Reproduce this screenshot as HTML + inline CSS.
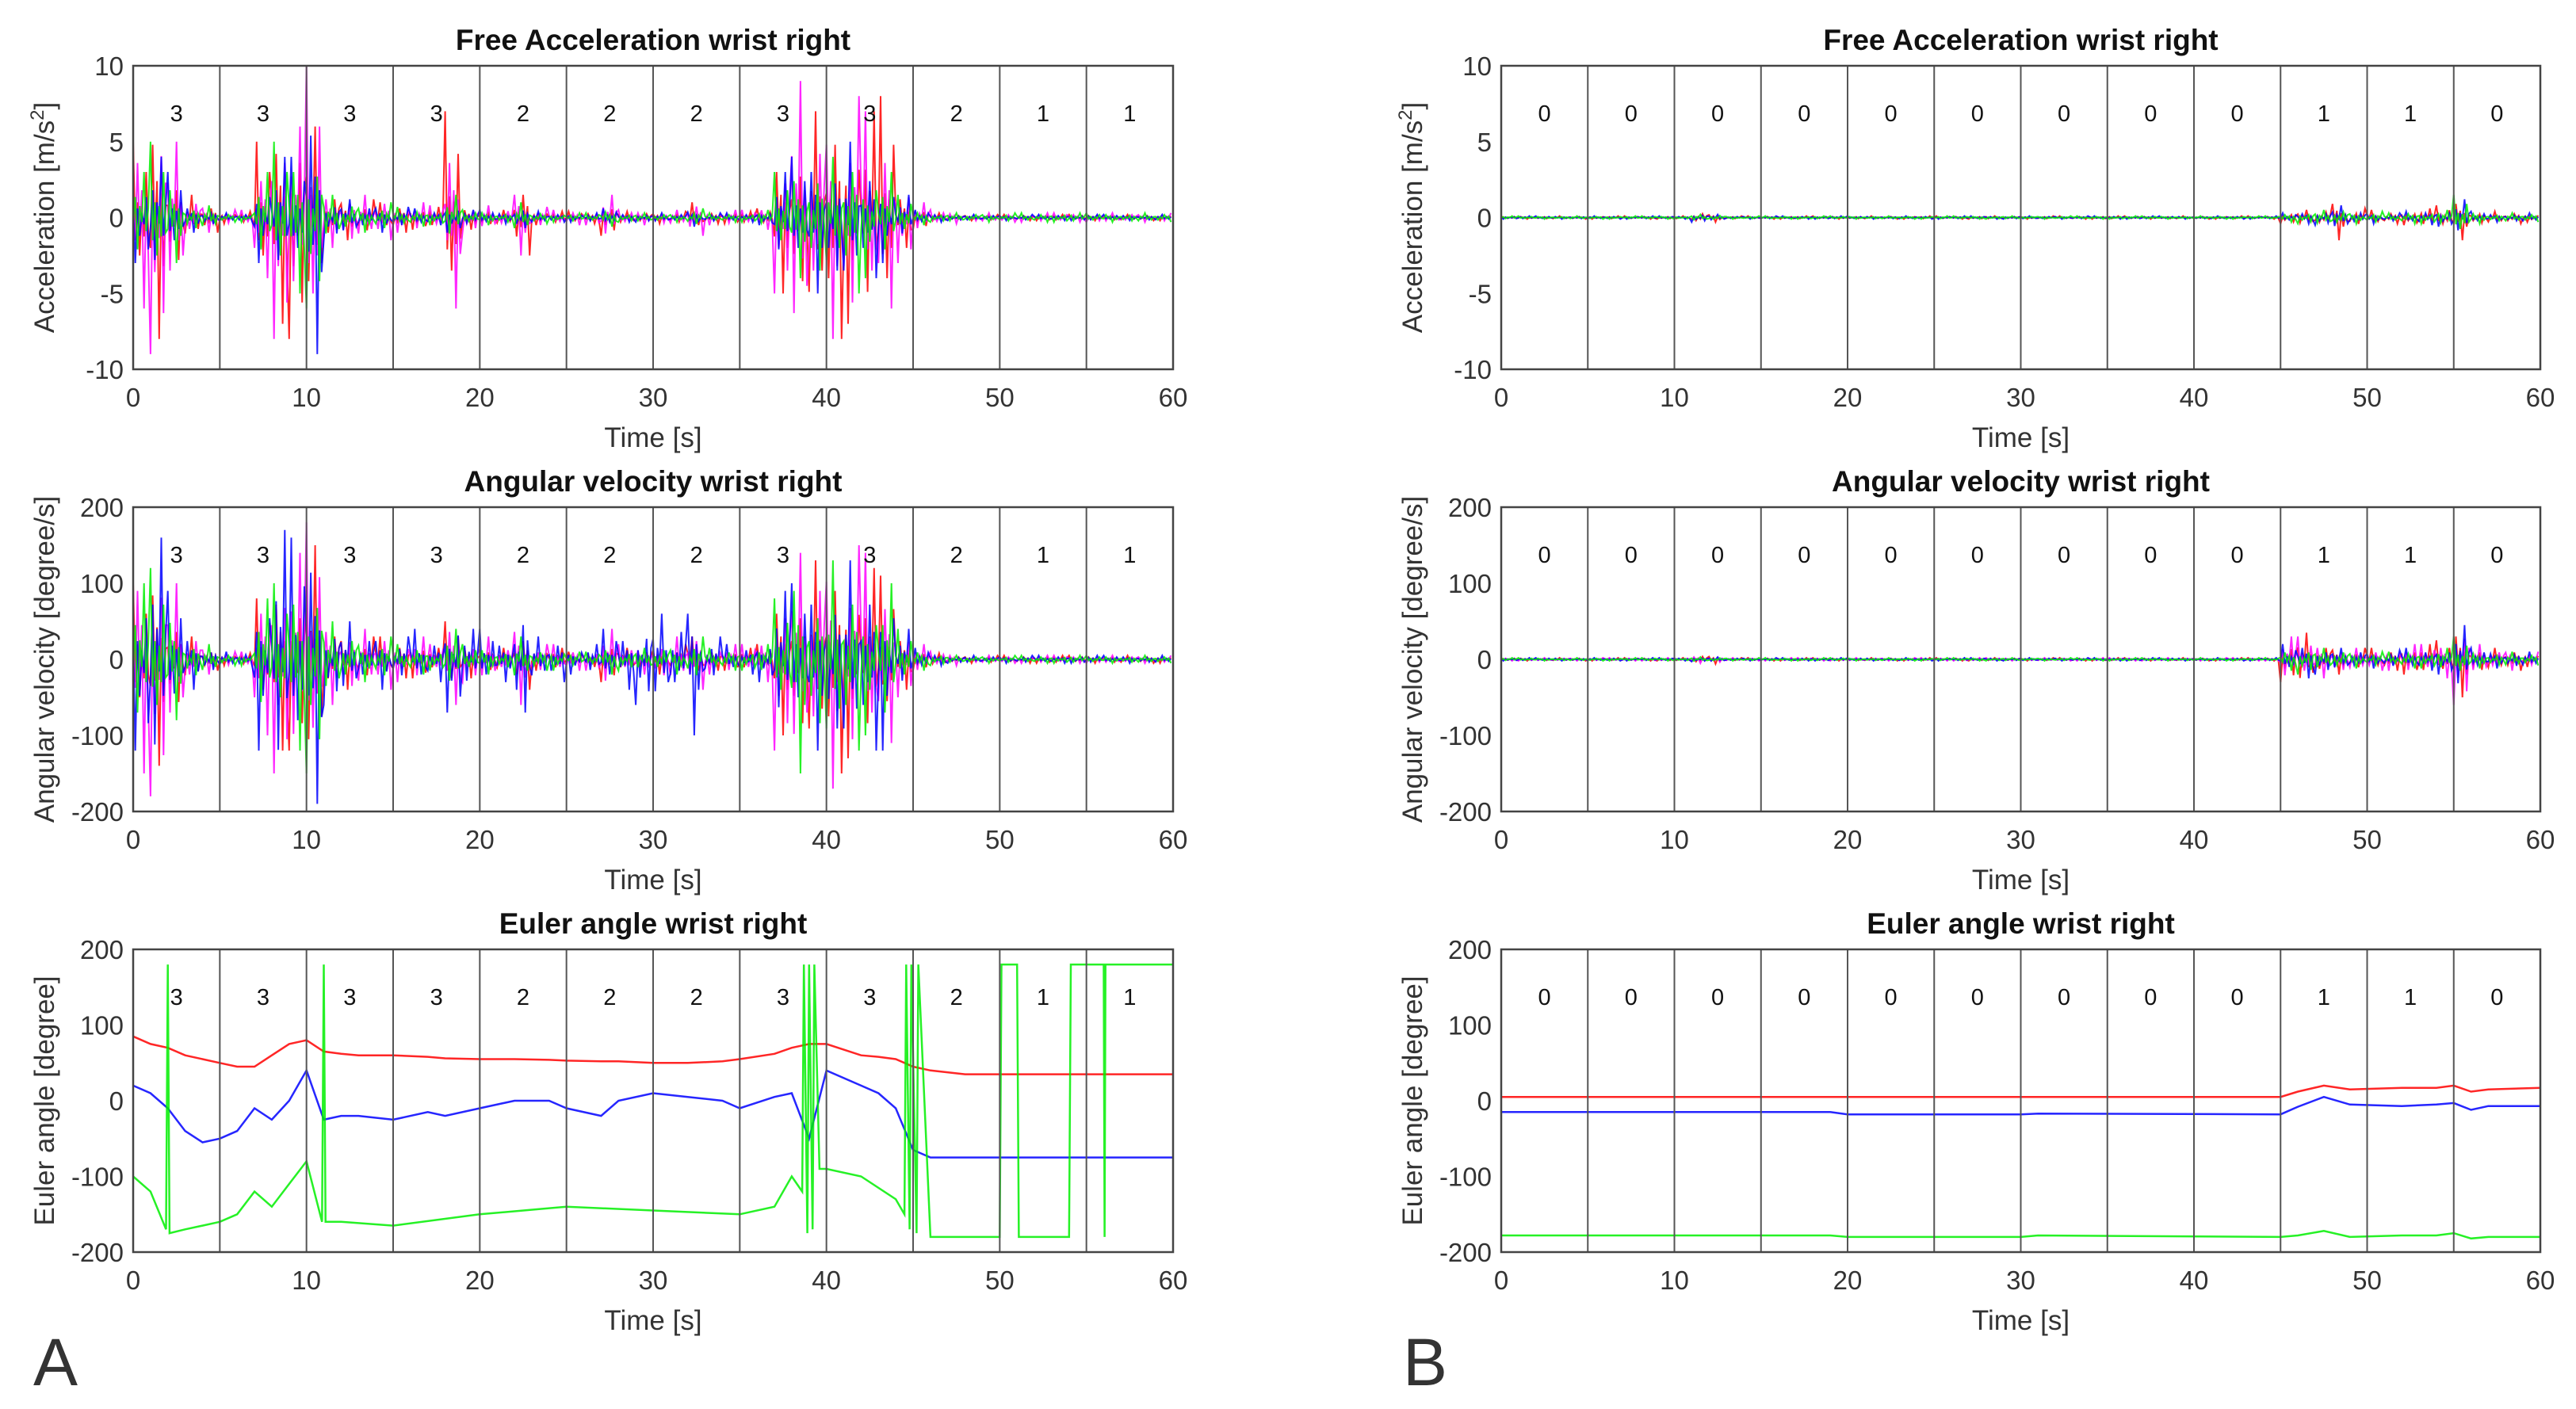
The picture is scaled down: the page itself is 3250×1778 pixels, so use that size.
<!DOCTYPE html>
<html><head><meta charset="utf-8"><style>
html,body{margin:0;padding:0;background:#fff}
svg{display:block}
text{font-family:"Liberation Sans",sans-serif}
</style></head><body>
<svg id="fig" width="3250" height="1778" viewBox="0 0 3250 1778" xmlns="http://www.w3.org/2000/svg">
<text x="42" y="1748" font-size="84" fill="#333">A</text>
<text x="1770" y="1748" font-size="84" fill="#333">B</text>
</svg>
<script>
const xTicks=[0,10,20,30,40,50,60];
const labelsA=["3","3","3","3","2","2","2","3","3","2","1","1"];
const labelsB=["0","0","0","0","0","0","0","0","0","1","1","0"];
const accTicks=[10,5,0,-5,-10];
const angTicks=[200,100,0,-100,-200];
// Free acceleration A envelopes (per second)
const accAMag=[6,9,5,1.5,1,0.5,0.5,4,8,6,10,2,2,1.5,1.5,1,1,0.8,6,1,0.8,0.7,2.5,0.7,0.5,0.5,0.5,1.5,0.5,0.5,0.5,0.5,1.2,0.5,0.5,0.5,0.8,5,9,7,8,8,7,6,3,1,0.5,0.4,0.3,0.3,0.3,0.3,0.3,0.3,0.3,0.3,0.3,0.3,0.3,0.3];
const accARed=[5,8,4,1.5,1,0.4,0.4,5,7,8,6,2,1.5,1.2,1,1,0.8,0.7,7,0.8,0.6,0.5,2.5,0.5,0.4,0.4,0.4,1.2,0.4,0.4,0.4,0.4,1,0.4,0.4,0.4,0.6,5,6,7,8,7,7,8,2,0.8,0.3,0.2,0.2,0.2,0.2,0.2,0.2,0.2,0.2,0.2,0.2,0.2,0.2,0.2];
const accABlue=[3,4,3,1,0.6,0.3,0.3,3,4,4,9,1.5,1.2,1,1,0.7,0.6,0.5,1,0.5,0.5,0.4,1,0.4,0.3,0.3,0.3,0.6,0.3,0.3,0.3,0.3,0.6,0.3,0.3,0.3,0.5,3,4,5,5,5,4,3,1.5,0.5,0.3,0.2,0.2,0.2,0.2,0.2,0.2,0.2,0.2,0.2,0.2,0.2,0.2,0.2];
const accAGreen=[3,5,3,1,0.8,0.3,0.3,3,5,5,6,1.5,1.2,1,1,0.7,0.6,0.5,1.5,0.5,0.5,0.4,1,0.4,0.3,0.3,0.3,0.6,0.3,0.3,0.3,0.3,0.6,0.3,0.3,0.3,0.5,3,4,5,4,5,4,3,1.5,0.5,0.3,0.3,0.3,0.3,0.3,0.3,0.3,0.3,0.3,0.3,0.3,0.3,0.3,0.3];
// Angular velocity A envelopes
const angAMag=[150,180,100,40,20,10,10,100,150,140,180,60,50,40,40,30,30,20,60,30,30,20,60,20,20,15,15,40,20,20,30,30,40,20,20,20,30,120,140,150,170,150,140,110,50,20,10,8,5,5,5,5,5,5,5,5,5,5,5,5];
const angARed=[100,140,80,30,15,8,8,80,120,120,150,50,40,30,30,25,25,15,50,25,20,15,40,15,15,10,10,30,15,15,20,20,30,15,15,15,20,100,120,130,150,130,120,110,40,15,8,5,5,5,5,5,5,5,5,5,5,5,5,5];
const angABlue=[120,160,90,40,20,10,10,120,170,160,190,60,50,40,40,30,40,30,70,40,40,30,100,30,30,20,20,40,40,60,60,60,100,30,20,20,30,90,100,120,130,130,120,120,40,15,8,5,5,5,5,5,5,5,5,5,5,5,5,5];
const angAGreen=[100,120,80,30,20,8,8,80,100,120,150,50,40,30,30,20,20,15,40,20,20,15,30,15,15,10,10,20,15,15,20,20,30,15,15,15,20,80,150,120,130,120,100,100,40,15,8,5,5,5,5,5,5,5,5,5,5,5,5,5];
// Free acceleration B envelopes
const accBRed=[0.1,0.1,0.1,0.1,0.1,0.1,0.1,0.1,0.1,0.1,0.1,0.4,0.3,0.1,0.1,0.1,0.1,0.1,0.1,0.1,0.1,0.1,0.1,0.1,0.1,0.1,0.1,0.1,0.1,0.1,0.1,0.1,0.1,0.1,0.1,0.1,0.1,0.1,0.1,0.1,0.1,0.1,0.1,0.1,0.1,0.4,0.5,0.6,1.5,0.6,0.5,0.4,0.5,0.6,0.8,1.5,0.5,0.4,0.4,0.3];
const accBBlue=[0.1,0.1,0.1,0.1,0.1,0.1,0.1,0.1,0.1,0.1,0.1,0.3,0.2,0.1,0.1,0.1,0.1,0.1,0.1,0.1,0.1,0.1,0.1,0.1,0.1,0.1,0.1,0.1,0.1,0.1,0.1,0.1,0.1,0.1,0.1,0.1,0.1,0.1,0.1,0.1,0.1,0.1,0.1,0.1,0.1,0.3,0.4,0.5,0.8,0.5,0.4,0.3,0.4,0.5,0.6,1.2,0.4,0.3,0.3,0.3];
const accBGreen=[0.1,0.1,0.1,0.1,0.1,0.1,0.1,0.1,0.1,0.1,0.1,0.2,0.2,0.1,0.1,0.1,0.1,0.1,0.1,0.1,0.1,0.1,0.1,0.1,0.1,0.1,0.1,0.1,0.1,0.1,0.1,0.1,0.1,0.1,0.1,0.1,0.1,0.1,0.1,0.1,0.1,0.1,0.1,0.1,0.1,0.3,0.4,0.5,0.6,0.4,0.4,0.3,0.4,0.4,0.5,1.5,0.4,0.3,0.3,0.3];
// Angular velocity B envelopes
const angBRed=[2,2,2,2,2,2,2,2,2,2,2,6,6,2,2,2,2,2,2,2,2,2,2,2,2,2,2,2,2,2,2,2,2,2,2,2,2,2,2,2,2,2,2,2,2,30,35,25,20,15,15,15,20,20,25,50,20,15,15,10];
const angBMag=[2,2,2,2,2,2,2,2,2,2,2,5,5,2,2,2,2,2,2,2,2,2,2,2,2,2,2,2,2,2,2,2,2,2,2,2,2,2,2,2,2,2,2,2,2,30,30,25,20,15,15,15,20,20,25,60,20,15,15,10];
const angBBlue=[2,2,2,2,2,2,2,2,2,2,2,3,3,2,2,2,2,2,2,2,2,2,2,2,2,2,2,2,2,2,2,2,2,2,2,2,2,2,2,2,2,2,2,2,2,20,25,20,15,15,12,12,15,15,20,45,15,12,12,10];
const angBGreen=[2,2,2,2,2,2,2,2,2,2,2,3,3,2,2,2,2,2,2,2,2,2,2,2,2,2,2,2,2,2,2,2,2,2,2,2,2,2,2,2,2,2,2,2,2,15,20,15,15,12,10,10,12,12,15,30,12,10,10,8];
// Euler angles A
const eulerT=[0,1,2,3,4,5,6,7,8,9,10,11,12,13,15,17,18,20,22,24,25,27,28,30,32,34,35,37,38,39,40,42,43,44,45,46,48,50,55,60];
const eulerARed=[85,75,70,60,55,50,45,45,60,75,80,65,62,60,60,58,56,55,55,54,53,52,52,50,50,52,55,62,70,75,75,60,58,55,45,40,35,35,35,35];
const eulerABlue=[20,10,-10,-40,-55,-50,-40,-10,-25,0,40,-25,-20,-20,-25,-15,-20,-10,0,0,-10,-20,0,10,5,0,-10,5,10,-50,40,20,10,-10,-65,-75,-75,-75,-75,-75];
const eulerAGreenT=[0,1,1.9,2,2.1,3,4,5,6,7,8,9,10,10.9,11,11.1,12,15,20,25,30,35,37,38,38.6,38.7,38.9,39,39.2,39.3,39.6,40,42,44,44.5,44.6,44.8,44.9,45.2,45.3,46,46.1,50,50.1,51,51.1,52,52.1,54,54.1,56,56.05,56.1,60];
const eulerAGreenV=[-100,-120,-170,180,-175,-170,-165,-160,-150,-120,-140,-110,-80,-160,180,-160,-160,-165,-150,-140,-145,-150,-140,-100,-120,180,-175,180,-170,180,-90,-90,-100,-130,-150,180,-170,180,-175,180,-180,-180,-180,180,180,-180,-180,-180,-180,180,180,-180,180,180];
// Euler angles B
const eulerBT=[0,19,20,30,31,45,46,47.5,49,52,54,55,56,57,60];
const eulerBRed=[5,5,5,5,5,5,12,20,15,17,17,20,12,15,17];
const eulerBBlue=[-15,-15,-18,-18,-17,-18,-8,5,-5,-7,-5,-3,-12,-7,-7];
const eulerBGreen=[-178,-178,-180,-180,-178,-180,-178,-172,-180,-178,-178,-175,-182,-180,-180];

const svg=document.getElementById('fig');
const NS='http://www.w3.org/2000/svg';
function mk(tag,attrs,parent){const e=document.createElementNS(NS,tag);for(const k in attrs)e.setAttribute(k,attrs[k]);(parent||svg).appendChild(e);return e;}
const cols=[[168,1480],[1894,3205]];
const rows=[[83,466],[640,1024],[1198,1580]];
const zig=[1,-0.3,0.2,-0.5,0.15,-0.25,0.6,-0.2,0.3,-1,0.2,-0.4,0.1,-0.15,0.45,-0.7,0.25,-0.1];

function panel(ci,ri,title,ylab,yTicks,ymin,ymax,labels,name){
  const [x0,x1]=cols[ci],[y0,y1]=rows[ri];
  const g=mk('g',{});
  
  
  const sx=t=>x0+(t/60)*(x1-x0);
  const sy=v=>y1-(v-ymin)/(ymax-ymin)*(y1-y0);
  const t=mk('text',{x:(x0+x1)/2,y:y0-20,'font-size':37,'font-weight':'bold','text-anchor':'middle',fill:'#111'},g);
  t.textContent=title;
  
  
  const series=mk('g',{},g);
  
  
  for(let k=1;k<12;k++){
    const l=mk('line',{x1:sx(k*5),x2:sx(k*5),y1:y0,y2:y1,stroke:'#555','stroke-width':2},g);
    
    
  }
  labels.forEach((s,k)=>{
    const e=mk('text',{x:sx(k*5+2.5),y:y0+70,'font-size':29,'text-anchor':'middle',fill:'#111'},g);
    e.textContent=s;
    
    
  });
  const box=mk('rect',{x:x0,y:y0,width:x1-x0,height:y1-y0,fill:'none',stroke:'#444','stroke-width':2.5},g);
  
  
  yTicks.forEach(v=>{
    const e=mk('text',{x:x0-12,y:sy(v)+12,'font-size':33,'text-anchor':'end',fill:'#333'},g);
    e.textContent=v;
    
    
  });
  xTicks.forEach(v=>{
    const e=mk('text',{x:sx(v),y:y1+47,'font-size':33,'text-anchor':'middle',fill:'#333'},g);
    e.textContent=v;
    
    
  });
  const xl=mk('text',{x:(x0+x1)/2,y:y1+98,'font-size':35,'text-anchor':'middle',fill:'#333'},g);
  xl.textContent='Time [s]';
  
  
  const yx=x0-100,yc=(y0+y1)/2;
  const yl=mk('text',{x:yx,y:yc,'font-size':35,'text-anchor':'middle',fill:'#333',transform:`rotate(-90 ${yx} ${yc})`},g);
  yl.innerHTML=ylab;
  
  
  return {sx,sy,series};
}
function noisy(p,arr,color,off,name){
  let d='';const n=8;
  arr.forEach((a,i)=>{for(let j=0;j<n;j++){const t=i+j/n;const v=a*zig[(i*5+j+off)%zig.length];d+=(d?'L':'M')+p.sx(t).toFixed(1)+','+p.sy(v).toFixed(1);}});
  const e=mk('path',{d,fill:'none',stroke:color,'stroke-width':2,'stroke-opacity':0.85},p.series);
  
  
}
function line(p,ts,vs,color,name){
  let d='';ts.forEach((t,i)=>{d+=(i?'L':'M')+p.sx(t).toFixed(1)+','+p.sy(vs[i]).toFixed(1);});
  const e=mk('path',{d,fill:'none',stroke:color,'stroke-width':2.5,'stroke-opacity':0.85},p.series);
  
  
}
const accLab='Acceleration [m/s<tspan baseline-shift="super" font-size="24">2</tspan>]';
let p=panel(0,0,'Free Acceleration wrist right',accLab,accTicks,-10,10,labelsA,'acc-panel-a');
noisy(p,accARed,'#ff0000',0,'acc-a-red');noisy(p,accAMag,'#ff00ff',4,'acc-a-magenta');noisy(p,accABlue,'#0000ff',8,'acc-a-blue');noisy(p,accAGreen,'#00ee00',13,'acc-a-green');
p=panel(1,0,'Free Acceleration wrist right',accLab,accTicks,-10,10,labelsB,'acc-panel-b');
noisy(p,accBRed,'#ff0000',0,'acc-b-red');noisy(p,accBBlue,'#0000ff',8,'acc-b-blue');noisy(p,accBGreen,'#00ee00',13,'acc-b-green');
p=panel(0,1,'Angular velocity wrist right','Angular velocity [degree/s]',angTicks,-200,200,labelsA,'ang-panel-a');
noisy(p,angARed,'#ff0000',0,'ang-a-red');noisy(p,angAMag,'#ff00ff',4,'ang-a-magenta');noisy(p,angABlue,'#0000ff',8,'ang-a-blue');noisy(p,angAGreen,'#00ee00',13,'ang-a-green');
p=panel(1,1,'Angular velocity wrist right','Angular velocity [degree/s]',angTicks,-200,200,labelsB,'ang-panel-b');
noisy(p,angBRed,'#ff0000',0,'ang-b-red');noisy(p,angBMag,'#ff00ff',4,'ang-b-magenta');noisy(p,angBBlue,'#0000ff',8,'ang-b-blue');noisy(p,angBGreen,'#00ee00',13,'ang-b-green');
p=panel(0,2,'Euler angle wrist right','Euler angle [degree]',angTicks,-200,200,labelsA,'euler-panel-a');
line(p,eulerT,eulerARed,'#ff0000','euler-a-red');line(p,eulerT,eulerABlue,'#0000ff','euler-a-blue');line(p,eulerAGreenT,eulerAGreenV,'#00ee00','euler-a-green');
p=panel(1,2,'Euler angle wrist right','Euler angle [degree]',angTicks,-200,200,labelsB,'euler-panel-b');
line(p,eulerBT,eulerBRed,'#ff0000','euler-b-red');line(p,eulerBT,eulerBBlue,'#0000ff','euler-b-blue');line(p,eulerBT,eulerBGreen,'#00ee00','euler-b-green');
</script>
</body></html>
